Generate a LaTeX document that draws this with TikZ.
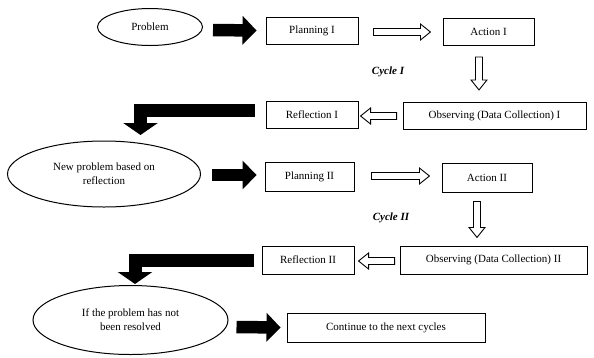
\documentclass[tikz,border=0pt]{standalone}
\usepackage{fontspec}
\setmainfont{Liberation Serif}
\usetikzlibrary{arrows.meta,calc,shapes.geometric}
\tikzset{
  box/.style={draw,line width=0.9pt,minimum height=27pt,inner sep=0pt,font=\fontsize{11}{13}\selectfont},
  oval/.style={draw,ellipse,line width=1pt,inner sep=0pt,align=center,font=\fontsize{11}{14}\selectfont},
  fat/.style={line width=12.5pt,-{Triangle[length=14pt,width=28pt]}},
  bigL/.style={line width=13pt,line join=miter,-{Triangle[length=12pt,width=34pt]}},
  cyc/.style={font=\fontsize{11}{13}\selectfont\bfseries\itshape},
  pics/harrow/.style={code={
    \draw[fill=white,line width=0.9pt] (0,3.5) -- (#1-10,3.5) -- (#1-10,8) -- (#1,0) -- (#1-10,-8) -- (#1-10,-3.5) -- (0,-3.5) -- cycle;}}
}
\begin{document}
\begin{tikzpicture}[x=1pt,y=-1pt]
\useasboundingbox (0,0) rectangle (594,357);
% nodes
\node[oval,minimum width=105pt,minimum height=37pt] (prob) at (150,27) {Problem};
\node[box,minimum width=92pt] (p1) at (312,30.5) {Planning I};
\node[box,minimum width=91pt] (a1) at (488.5,32) {Action I};
\node[box,minimum width=183pt] (o1) at (494.5,115.5) {Observing (Data Collection) I};
\node[box,minimum width=92pt] (r1) at (312,115) {Reflection I};
\node[cyc] (c1) at (388,72) {Cycle I};
\node[oval,minimum width=193pt,minimum height=66pt] (np) at (104,174) {New problem based on\\reflection};
\node[box,minimum width=89pt,minimum height=29pt] (p2) at (309.5,176.5) {Planning II};
\node[box,minimum width=90pt,minimum height=29pt] (a2) at (487,177.5) {Action II};
\node[cyc] (c2) at (391,218) {Cycle II};
\node[box,minimum width=187pt,minimum height=28pt] (o2) at (493.5,260) {Observing (Data Collection) II};
\node[box,minimum width=92pt,minimum height=28pt] (r2) at (308,260) {Reflection II};
\node[oval,minimum width=195pt,minimum height=69pt] (nr) at (130.5,320) {If the problem has not\\been resolved};
\node[box,minimum width=198pt,minimum height=29pt] (cn) at (386,327.5) {Continue to the next cycles};
% fat black arrows
\draw[fat] ($(prob.east)+(10,3)$) -- ($(p1.west)+(-9,0)$);
\draw[fat] ($(np.east)+(11,1)$) -- ($(p2.west)+(-8,-1.5)$);
\draw[fat] ($(nr.east)+(8,7)$) -- ($(cn.west)+(-6,0)$);
% L-shaped arrows
\coordinate (t1) at (140.5,135);
\coordinate (t2) at (135,284);
\draw[bigL] ($(r1.west)+(-11,-4.5)$) -| (t1);
\draw[bigL] ($(r2.west)+(-8,0)$) -| (t2);
% hollow arrows
\pic at ($(p1.east)+(15,1.5)$) {harrow=57};
\pic[rotate=-90] at ($(a1.south)+(-9.5,11)$) {harrow=33};
\pic[rotate=180] at ($(o1.west)+(-6,0.5)$) {harrow=36};
\pic at ($(p2.east)+(17,-0.5)$) {harrow=58};
\pic[rotate=-90] at ($(a2.south)+(-10,9)$) {harrow=36};
\pic[rotate=180] at ($(o2.west)+(-5,1)$) {harrow=36};
\end{tikzpicture}
\end{document}
